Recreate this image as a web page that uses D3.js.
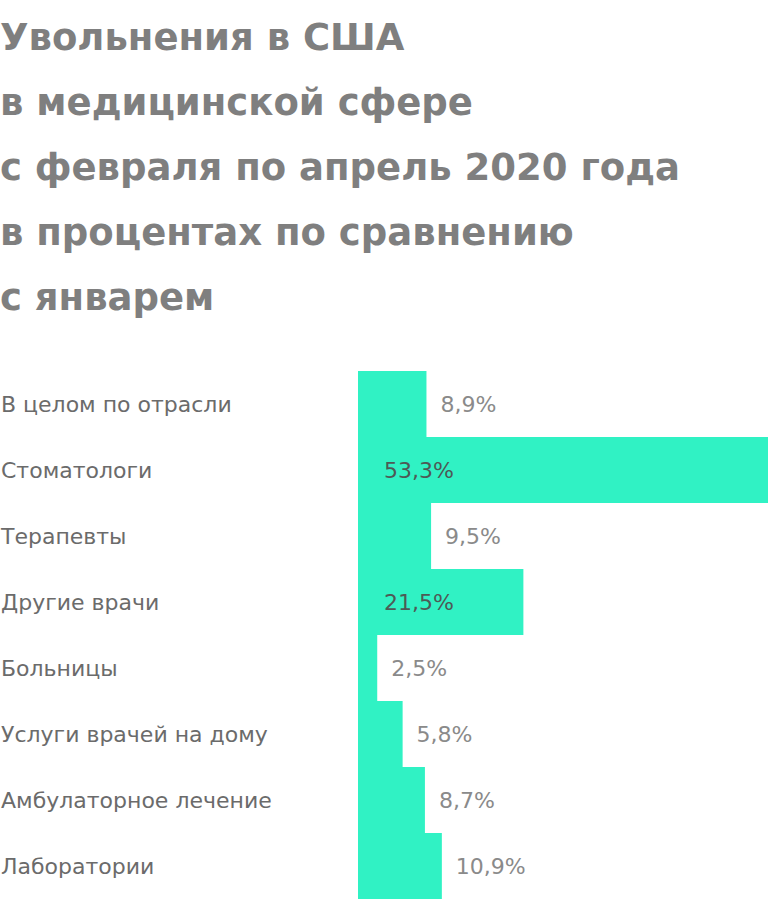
<!DOCTYPE html>
<html><head><meta charset="utf-8">
<script src="https://cdn.jsdelivr.net/npm/d3@7"></script>
<style>body{margin:0;background:#fff}</style>
</head><body>
<svg width="768" height="900"></svg>
<script>
var titleLines = ["Увольнения в США", "в медицинской сфере", "с февраля по апрель 2020 года", "в процентах по сравнению", "с январем"];
var categories = ["В целом по отрасли", "Стоматологи", "Терапевты", "Другие врачи", "Больницы", "Услуги врачей на дому", "Амбулаторное лечение", "Лаборатории"];
var values = [8.9, 53.3, 9.5, 21.5, 2.5, 5.8, 8.7, 10.9];

var svg = d3.select("svg");
var font = "'DejaVu Sans', sans-serif";

svg.selectAll("text.title").data(titleLines).enter().append("text")
  .attr("class", "title")
  .attr("x", 0)
  .attr("y", function (d, i) { return 50 + i * 65; })
  .style("font-family", font).style("font-weight", "bold").style("font-size", "37px")
  .style("fill", "#7f7f7f")
  .text(function (d) { return d; });

var xScale = d3.scaleLinear().domain([0, 53.3]).range([358, 768]);
var yScale = d3.scaleBand().domain(categories).range([371, 899]).padding(0);

var rows = svg.selectAll("g.row").data(categories).enter().append("g").attr("class", "row");

rows.append("rect")
  .attr("x", xScale(0))
  .attr("y", function (d) { return yScale(d); })
  .attr("width", function (d, i) { return xScale(values[i]) - xScale(0); })
  .attr("height", yScale.bandwidth())
  .style("fill", "#30f2c4");

rows.append("text")
  .attr("x", 1)
  .attr("y", function (d) { return yScale(d) + yScale.bandwidth() / 2 + 8; })
  .style("font-family", font).style("font-size", "22px").style("fill", "#6b6b6b")
  .text(function (d) { return d; });

rows.append("text")
  .attr("x", function (d, i) {
    var w = xScale(values[i]) - xScale(0);
    return w > 120 ? xScale(0) + 26 : xScale(values[i]) + 14;
  })
  .attr("y", function (d) { return yScale(d) + yScale.bandwidth() / 2 + 8; })
  .style("font-family", font).style("font-size", "22px")
  .style("fill", function (d, i) { return xScale(values[i]) - xScale(0) > 120 ? "#4d5a56" : "#8a8a8a"; })
  .text(function (d, i) { return String(values[i]).replace(".", ",") + "%"; });
</script>
</body></html>
